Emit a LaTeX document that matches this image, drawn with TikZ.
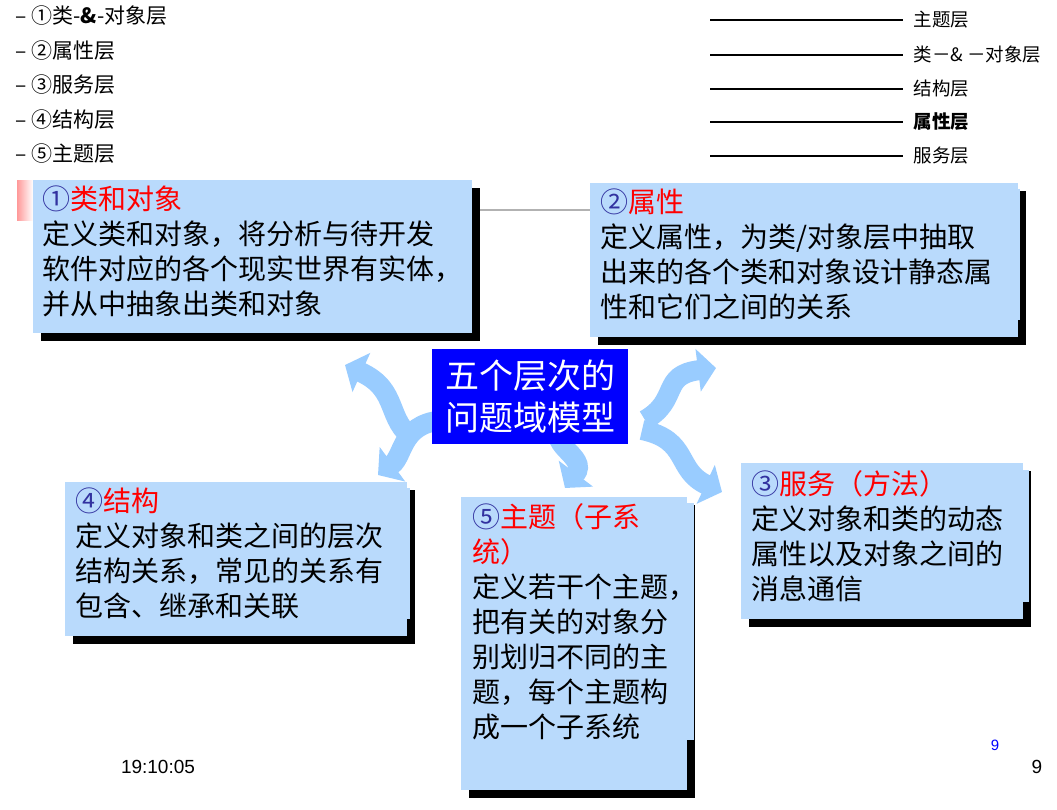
\documentclass[tikz,border=0pt]{standalone}
\usepackage{fontspec}
\setmainfont{Noto Sans CJK SC}
\newfontfamily\cjk{Noto Sans CJK SC}
\newfontfamily\lat{Liberation Sans}
\usetikzlibrary{arrows.meta}
\definecolor{boxblue}{RGB}{185,218,252}
\definecolor{arr}{RGB}{153,204,255}
\definecolor{circ}{RGB}{50,50,160}
\tikzset{
 card/.style={fill=boxblue, anchor=north west, inner sep=0pt, align=left, font=\fontsize{28}{35}\selectfont},
 shadowbox/.style={fill=black},
 wavy/.style={draw=arr, line width=20pt, -{Triangle[width=42pt,length=18pt]}},
 legline/.style={line width=1.6pt},
 leg/.style={anchor=west, font=\fontsize{18.5}{20}\selectfont},
 item/.style={anchor=west, font=\fontsize{21}{23}\selectfont},
}
\begin{document}
\begin{tikzpicture}[x=1pt,y=-1pt]
\useasboundingbox[fill=white] (0,0) rectangle (1057,809);
% list
\foreach \t [count=\i] in {①类-\textbf{\&}-对象层,②属性层,③服务层,④结构层,⑤主题层}
  \node[item] (l\i) at (12,{16+34.5*(\i-1)}) {– \t};
% legend
\foreach \t/\y [count=\i] in {主题层/20,类－\& －对象层/55,结构层/89,\textbf{属性层}/122,服务层/156}{
  \coordinate (ls\i) at (710,\y); \coordinate (le\i) at (903,\y);
  \draw[legline] (ls\i) -- (le\i);
  \node[leg] (lt\i) at (910,\y) {\t};}
% decorations
\shade[left color=red!40, right color=white] (17,180) rectangle (33,220);
\coordinate (g1) at (472,210); \coordinate (g2) at (590,210);
\draw[gray!60, line width=2pt] (g1) -- (g2);
% box 1
\fill[shadowbox] (41,188) rectangle (480,341);
\fill[boxblue] (33,180) rectangle (472,333);
\node[card, text width=430pt] (b1) at (42,186) {{\color{circ}①}{\color{red}类和对象}\\定义类和对象，将分析与待开发\\软件对应的各个现实世界有实体，\\并从中抽象出类和对象};
% box 2
\fill[shadowbox] (598,191) rectangle (1026,345);
\fill[boxblue] (590,183) rectangle (1018,337);
\node[card, text width=420pt] (b2) at (600,189) {{\color{circ}②}{\color{red}属性}\\定义属性，为类/对象层中抽取\\出来的各个类和对象设计静态属\\性和它们之间的关系};
% box 4
\fill[shadowbox] (73,490) rectangle (415,644);
\fill[boxblue] (65,482) rectangle (407,636);
\node[card, text width=335pt] (b4) at (75,488) {{\color{circ}④}{\color{red}结构}\\定义对象和类之间的层次\\结构关系，常见的关系有\\包含、继承和关联};
% box 5
\fill[shadowbox] (469,505) rectangle (695,798);
\fill[boxblue] (461,497) rectangle (687,790);
\node[card, text width=222pt] (b5) at (472,503) {{\color{circ}⑤}{\color{red}主题（子系\\统）}\\定义若干个主题，\\把有关的对象分\\别划归不同的主\\题，每个主题构\\成一个子系统};
% box 3
\fill[shadowbox] (749,471) rectangle (1031,627);
\fill[boxblue] (741,463) rectangle (1023,619);
\node[card, text width=278pt] (b3) at (751,470) {{\color{circ}③}{\color{red}服务（方法）}\\定义对象和类的动态\\属性以及对象之间的\\消息通信};
% arrows
\coordinate (a1s) at (415,440); \coordinate (a1e) at (345,365);
\draw[wavy] (a1s) .. controls (385,420) and (400,390) .. (a1e);
\coordinate (a2s) at (450,420); \coordinate (a2e) at (378,475);
\draw[wavy] (a2s) .. controls (400,420) and (405,455) .. (a2e);
\coordinate (a3s) at (565,420); \coordinate (a3e) at (565,488);
\draw[wavy] (a3s) .. controls (540,445) and (590,455) .. (a3e);
\coordinate (a4s) at (645,420); \coordinate (a4e) at (716,368);
\draw[wavy] (a4s) .. controls (680,400) and (660,375) .. (a4e);
\coordinate (a5s) at (642,430); \coordinate (a5e) at (722,492);
\draw[wavy] (a5s) .. controls (690,440) and (675,470) .. (a5e);
% center
\node[fill=blue, text=white, minimum width=196pt, minimum height=95pt, anchor=north west, align=center, font=\fontsize{34}{42}\selectfont] (c) at (432,349) {五个层次的\\问题域模型};
% footer
\node[font=\lat\fontsize{19}{20}\selectfont] (t) at (158,767) {19:10:05};
\node[font=\lat\fontsize{15}{17}\selectfont, text=blue] (p1) at (995,745) {9};
\node[font=\lat\fontsize{19}{20}\selectfont] (p2) at (1037,767) {9};
\end{tikzpicture}
\end{document}
